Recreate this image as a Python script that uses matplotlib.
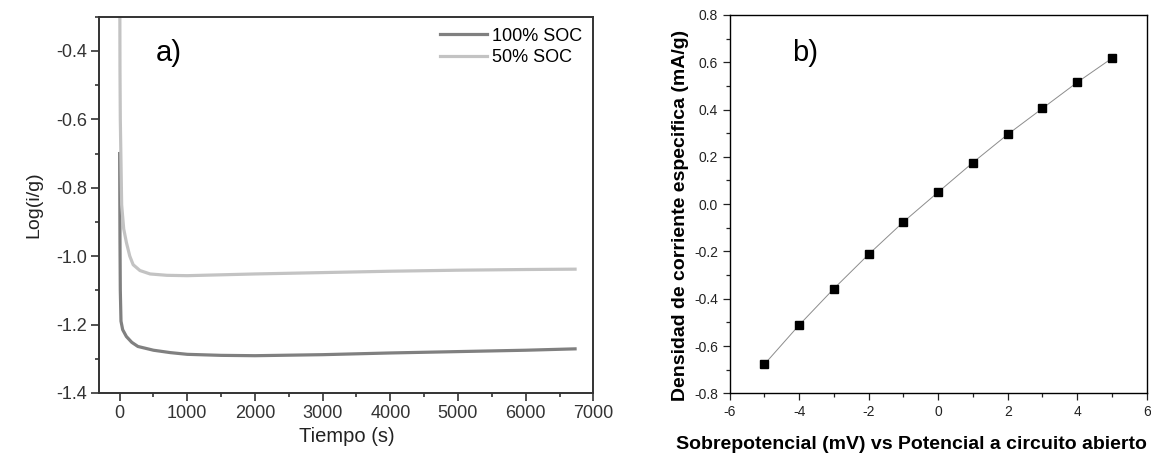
import numpy as np
import matplotlib.pyplot as plt
from matplotlib.ticker import MultipleLocator

plt.rcParams['font.family'] = ['Liberation Sans', 'DejaVu Sans']
plt.rcParams['axes.unicode_minus'] = False

# panel a) chronoamperometry
t_100 = [0, 5, 10, 20, 45, 100, 180, 270, 500, 750, 1000, 1500, 2000, 3000, 4000, 5000, 6000, 6730]
log_100 = [-0.70, -0.95, -1.10, -1.19, -1.215, -1.235, -1.252, -1.264, -1.275, -1.282, -1.287, -1.290,
           -1.291, -1.288, -1.283, -1.279, -1.275, -1.271]

t_50 = [0, 5, 10, 30, 60, 100, 150, 200, 300, 450, 700, 1000, 2000, 3000, 4000, 5000, 6000, 6730]
log_50 = [0.0, -0.45, -0.60, -0.85, -0.92, -0.96, -1.00, -1.025, -1.042, -1.052, -1.056, -1.057,
          -1.052, -1.048, -1.044, -1.041, -1.039, -1.038]

# panel b) micropolarisation
sobrepot = [-5, -4, -3, -2, -1, 0, 1, 2, 3, 4, 5]
densidad = [-0.677, -0.511, -0.357, -0.212, -0.075, 0.051, 0.176, 0.295, 0.405, 0.515, 0.617]

fig = plt.figure(figsize=(11.51, 4.53), dpi=100)

# ---- a)
ax1 = fig.add_axes([0.0863, 0.1325, 0.5155 - 0.0863, 0.963 - 0.1325])
ax1.plot(t_100, log_100, color='#808080', lw=2.3, label='100% SOC')
ax1.plot(t_50, log_50, color='#c3c3c3', lw=2.3, label='50% SOC')
ax1.set_xlim(-300, 7000)
ax1.set_ylim(-1.4, -0.3)
ax1.xaxis.set_major_locator(MultipleLocator(1000))
ax1.xaxis.set_minor_locator(MultipleLocator(500))
ax1.yaxis.set_major_locator(MultipleLocator(0.2))
ax1.yaxis.set_minor_locator(MultipleLocator(0.1))
ax1.yaxis.set_major_formatter(plt.FuncFormatter(lambda v, p: f'{v:.1f}'))
ax1.tick_params(which='major', direction='out', length=5.5, width=1.2, labelsize=13, colors='#333333')
ax1.tick_params(which='minor', direction='out', length=3, width=1.2, colors='#333333')
for s in ax1.spines.values():
    s.set_linewidth(1.4)
    s.set_color('#333333')
ax1.set_xlabel('Tiempo (s)', fontsize=14.5, color='#222222', labelpad=3)
ax1.set_ylabel('Log(i/g)', fontsize=14, color='#222222', labelpad=10)
ax1.text(0.115, 0.905, 'a)', transform=ax1.transAxes, fontsize=21, va='center')
leg = ax1.legend(loc='upper right', frameon=False, fontsize=13, handlelength=2.6,
                 handletextpad=0.3, labelspacing=0.25, borderaxespad=0.2)

# ---- b)
ax2 = fig.add_axes([0.634, 0.1318, 0.9963 - 0.634, 0.967 - 0.1318])
ax2.plot(sobrepot, densidad, color='#8c8c8c', lw=0.7, marker='s', ms=5.5,
         mfc='black', mec='black')
ax2.set_xlim(-6, 6)
ax2.set_ylim(-0.8, 0.8)
ax2.xaxis.set_major_locator(MultipleLocator(2))
ax2.xaxis.set_minor_locator(MultipleLocator(1))
ax2.yaxis.set_major_locator(MultipleLocator(0.2))
ax2.yaxis.set_minor_locator(MultipleLocator(0.1))
ax2.yaxis.set_major_formatter(plt.FuncFormatter(lambda v, p: f'{v:.1f}'))
ax2.tick_params(which='major', direction='out', length=5, width=0.9, labelsize=10, colors='#222222')
ax2.tick_params(which='minor', direction='out', length=3, width=0.9, colors='#222222')
for s in ax2.spines.values():
    s.set_linewidth(1.0)
ax2.set_xlabel('Sobrepotencial (mV) vs Potencial a circuito abierto', fontsize=14,
               fontweight='bold', labelpad=12, loc='right')
ax2.set_ylabel('Densidad de corriente especifica (mA/g)', fontsize=14,
               fontweight='bold')
ax2.yaxis.set_label_coords(-0.097, 0.47)
ax2.text(0.15, 0.9, 'b)', transform=ax2.transAxes, fontsize=21, va='center')

fig.savefig('out.png', dpi=100)
